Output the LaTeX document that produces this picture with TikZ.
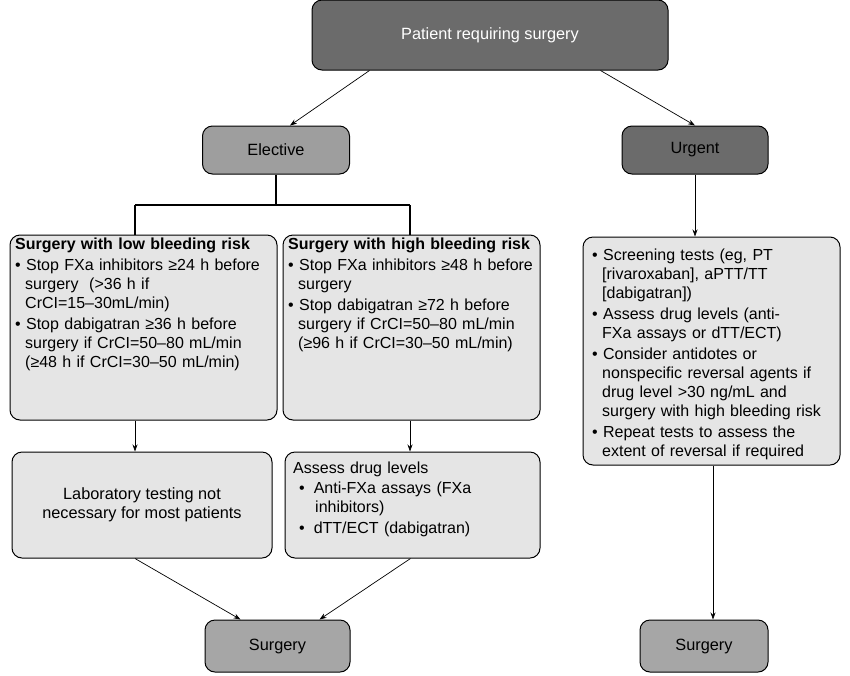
\documentclass[tikz,border=0pt]{standalone}
\usepackage{fontspec}
\setmainfont{Liberation Sans}
\usetikzlibrary{arrows.meta}
\newcommand{\bitem}[1]{\par\vspace{2pt}\hangindent=10pt\hangafter=1\noindent\textbullet\ #1\par}
\begin{document}
\begin{tikzpicture}[x=1pt,y=-1pt,
  box/.style={draw=black,line width=1pt,rounded corners=10pt,inner sep=0pt,font=\fontsize{16.3}{19.5}\selectfont,align=center},
  lt/.style={box,fill=black!10},
  txt/.style={inner sep=0pt,font=\fontsize{16}{19}\selectfont,align=left,anchor=north west},
  arr/.style={-{Stealth[length=7pt,width=5pt]},line width=0.7pt}]
\useasboundingbox (0,0) rectangle (850,675);
\node[box,fill=black!58,text=white,minimum width=356,minimum height=70] (top) at (490,35) {Patient requiring surgery};
\node[box,fill=black!38,minimum width=147,minimum height=48] (el) at (276,150) {Elective};
\node[box,fill=black!58,minimum width=146,minimum height=48] (ur) at (695,150) {Urgent};
\node[lt,minimum width=267,minimum height=185] (low) at (143.5,327.5) {};
\node[lt,minimum width=257,minimum height=185] (high) at (411.5,327.5) {};
\node[lt,minimum width=257,minimum height=228] (urb) at (711.5,351) {};
\node[lt,minimum width=260,minimum height=106] (lab) at (142,505) {Laboratory testing not\\necessary for most patients};
\node[lt,minimum width=255,minimum height=106] (ass) at (412.5,505) {};
\node[box,fill=black!35,minimum width=145,minimum height=52] (s1) at (277.5,646) {Surgery};
\node[box,fill=black!35,minimum width=128,minimum height=52] (s2) at (704,646) {Surgery};

\node[txt,text width=265] at (15,238) {\textbf{Surgery with low bleeding risk}\par
\bitem{Stop FXa inhibitors ≥24 h before\newline surgery \ (>36 h if\newline CrCI=15–30mL/min)}
\bitem{Stop dabigatran ≥36 h before\newline surgery if CrCI=50–80 mL/min\newline (≥48 h if CrCI=30–50 mL/min)}};
\node[txt,text width=255] at (288,238) {\textbf{Surgery with high bleeding risk}\par
\bitem{Stop FXa inhibitors ≥48 h before\newline surgery}
\bitem{Stop dabigatran ≥72 h before\newline surgery if CrCI=50–80 mL/min\newline (≥96 h if CrCI=30–50 mL/min)}};
\node[txt,text width=252] at (592,239) {\bitem{Screening tests (eg, PT\newline [rivaroxaban], aPTT/TT\newline [dabigatran])}
\bitem{Assess drug levels (anti-\newline FXa assays or dTT/ECT)}
\bitem{Consider antidotes or\newline nonspecific reversal agents if\newline drug level >30 ng/mL and\newline surgery with high bleeding risk}
\bitem{Repeat tests to assess the\newline extent of reversal if required}};
\node[txt,text width=250] at (293,462) {Assess drug levels\par\vspace{1pt}
\hangindent=22pt\hangafter=1\noindent\hspace*{6pt}\textbullet\hspace{9pt}Anti-FXa assays (FXa\newline inhibitors)\par\vspace{2pt}
\hangindent=22pt\hangafter=1\noindent\hspace*{6pt}\textbullet\hspace{9pt}dTT/ECT (dabigatran)\par};

\coordinate (j) at (276,205);
\draw[arr] ([xshift=58pt]top.south west) -- ([xshift=-60pt]el.north east);
\draw[arr] ([xshift=-68pt]top.south east) -- (ur.north);
\draw[line width=1.6pt] (el.south) -- (j);
\draw[line width=1.6pt] ([xshift=-8.5pt]low.north |- j) -- ([xshift=-1.5pt]high.north |- j);
\draw[line width=1.6pt] ([xshift=-8.5pt]low.north |- j) -- ([xshift=-8.5pt]low.north);
\draw[line width=1.6pt] ([xshift=-1.5pt]high.north |- j) -- ([xshift=-1.5pt]high.north);
\draw[arr] (ur.south) -- (ur.south |- urb.north);
\draw[arr] ([xshift=-8.5pt]low.south) -- ([xshift=-8.5pt]low.south |- lab.north);
\draw[arr] ([xshift=-1.5pt]high.south) -- ([xshift=-1.5pt]high.south |- ass.north);
\draw[arr] ([xshift=-7pt]lab.south) -- ([xshift=-37pt]s1.north);
\draw[arr] ([xshift=-2pt]ass.south) -- ([xshift=42pt]s1.north);
\draw[arr] ([xshift=1.5pt]urb.south) -- ([xshift=9pt]s2.north);
\end{tikzpicture}
\end{document}
